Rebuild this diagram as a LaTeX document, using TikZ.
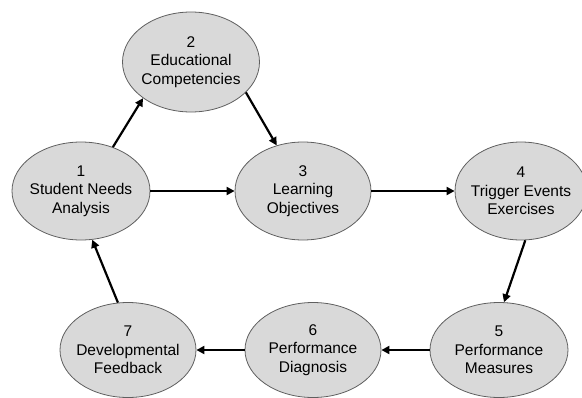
\documentclass[tikz,border=0pt]{standalone}
\usepackage{fontspec}
\setmainfont{Liberation Sans}
\usetikzlibrary{shapes.geometric,arrows.meta}
\definecolor{phasefill}{RGB}{217,217,217}
\definecolor{phaseline}{RGB}{95,95,95}
\tikzset{
  phase/.style={ellipse,draw=phaseline,fill=phasefill,line width=0.8pt,
    inner xsep=-8pt,inner ysep=0pt,align=center,
    font=\fontsize{15.5}{18.5}\selectfont},
  flow/.style={-{Triangle[length=8pt,width=8pt]},line width=2.2pt}
}
\begin{document}
\begin{tikzpicture}[x=1pt,y=-1pt]
\useasboundingbox (0,0) rectangle (582,397);
\node[phase,minimum width=138pt,minimum height=98pt] (n1) at (81,191) {1\\Student Needs\\Analysis};
\node[phase,minimum width=137pt,minimum height=100pt] (n2) at (191,62) {2\\Educational\\Competencies};
\node[phase,minimum width=136pt,minimum height=98pt] (n3) at (303,191) {3\\Learning\\Objectives};
\node[phase,minimum width=132pt,minimum height=98pt] (n4) at (521,191) {4\\Trigger Events\\Exercises};
\node[phase,minimum width=138pt,minimum height=95pt] (n5) at (499,350) {5\\Performance\\Measures};
\node[phase,minimum width=136pt,minimum height=95pt] (n6) at (313,350) {6\\Performance\\Diagnosis};
\node[phase,minimum width=136pt,minimum height=95pt] (n7) at (128,350) {7\\Developmental\\Feedback};
\draw[flow] (n1.54) -- (n2.217);
\draw[flow] (n2.-29) -- (n3.120);
\draw[flow] (n1.east) -- (n3.west);
\draw[flow] (n3.east) -- (n4.west);
\draw[flow] (n4.-85) -- (n5.84);
\draw[flow] (n5.west) -- (n6.east);
\draw[flow] (n6.west) -- (n7.east);
\draw[flow] (n7.102) -- (n1.-77);
\end{tikzpicture}
\end{document}
